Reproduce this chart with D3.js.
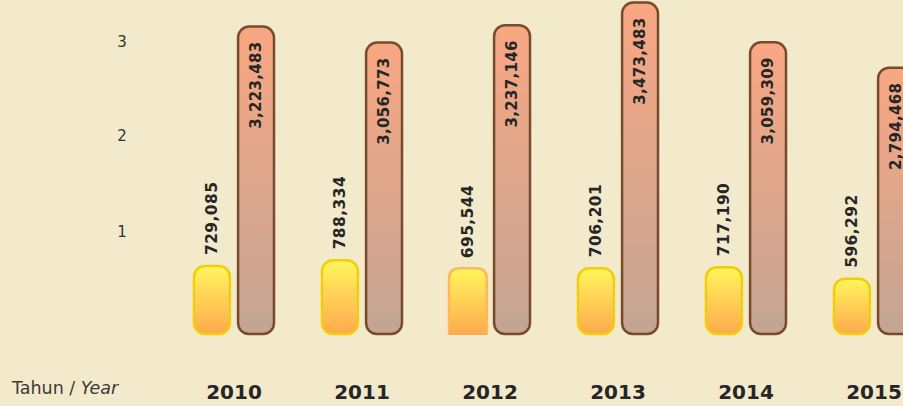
<!DOCTYPE html>
<html>
<head>
<meta charset="utf-8">
<script src="https://cdn.jsdelivr.net/npm/d3@7"></script>
<style>
  body { margin: 0; background: #f3eacb; }
  svg { display: block; font-family: "Century Gothic", "DejaVu Sans", sans-serif; }
</style>
</head>
<body>
<div id="chart"></div>
<script>
// Data
const years = ["2010", "2011", "2012", "2013", "2014", "2015"];
const seriesA = [729085, 788334, 695544, 706201, 717190, 596292];
const seriesB = [3223483, 3056773, 3237146, 3473483, 3059309, 2794468];
const yTicks = [1, 2, 3];

const width = 903, height = 406;
const svg = d3.select("#chart").append("svg")
    .attr("width", width)
    .attr("height", height);

svg.append("rect").attr("width", width).attr("height", height).attr("fill", "#f3eacb");

// Gradients
const defs = svg.append("defs");
const gYellow = defs.append("linearGradient").attr("id", "gYellow")
    .attr("x1", 0).attr("y1", 0).attr("x2", 0).attr("y2", 1);
gYellow.append("stop").attr("offset", "0%").attr("stop-color", "#fff65c");
gYellow.append("stop").attr("offset", "100%").attr("stop-color", "#ffa94f");
const gSalmon = defs.append("linearGradient").attr("id", "gSalmon")
    .attr("x1", 0).attr("y1", 0).attr("x2", 0).attr("y2", 1);
gSalmon.append("stop").attr("offset", "0%").attr("stop-color", "#f9a783");
gSalmon.append("stop").attr("offset", "100%").attr("stop-color", "#c2a594");

// Scales
const x = d3.scaleBand()
    .domain(years)
    .range([193 - 23, 193 - 23 + 128 * 6])
    .paddingInner(46 / 128)
    .paddingOuter(23 / 128);

const xInner = d3.scaleBand()
    .domain(["a", "b"])
    .range([0, x.bandwidth()])
    .paddingInner(0.14);

const y = d3.scaleLinear()
    .domain([0, 3.5])
    .range([335, 335 - 3.5 * 96]);

// Y tick labels
svg.append("g")
    .attr("transform", "translate(131,0)")
    .call(d3.axisLeft(y).tickValues(yTicks).tickSize(0).tickPadding(0).tickFormat(d3.format("d")))
    .call(g => g.select(".domain").remove())
    .selectAll("text")
    .attr("text-anchor", "middle")
    .attr("dx", "-9")
    .attr("dy", d => d === 3 ? "-0.05em" : "-0.2em")
    .style("font-size", "15px")
    .style("font-family", "'DejaVu Sans', sans-serif")
    .style("fill", "#333");

const groups = svg.append("g").selectAll("g")
    .data(years)
    .join("g")
    .attr("transform", d => `translate(${x(d)},0)`);

const bw = xInner.bandwidth();
const r = 11;

// Yellow bars (series A)
groups.each(function(yr, i) {
    const g = d3.select(this);
    const v = seriesA[i] / 1e6;
    const x0 = xInner("a"), top = y(v), bot = y(0);
    if (yr === "2012") {
        // flat-bottom bar with light orange outline in the reference
        const p = `M${x0},${bot} V${top + r} Q${x0},${top} ${x0 + r},${top} H${x0 + bw - r} Q${x0 + bw},${top} ${x0 + bw},${top + r} V${bot}`;
        g.append("path").attr("d", p + "Z").attr("fill", "url(#gYellow)").attr("stroke", "none");
        g.append("path").attr("d", p).attr("fill", "none").attr("stroke", "#ffb757").attr("stroke-width", 2.5);
    } else {
        g.append("rect")
            .attr("x", x0 + 1).attr("y", top + 1)
            .attr("width", bw - 2).attr("height", bot - top - 2)
            .attr("rx", r).attr("ry", r)
            .attr("fill", "url(#gYellow)")
            .attr("stroke", "#f2cd0a").attr("stroke-width", 2.5);
    }
    g.append("text")
        .attr("transform", `translate(${x0 + bw / 2},${top - 10}) rotate(-90)`)
        .attr("dy", "0.35em")
        .attr("text-anchor", "start")
        .style("font-size", "15.5px")
        .style("font-weight", "bold")
        .style("letter-spacing", "0.4px")
        .style("fill", "#262626")
        .text(d3.format(",")(seriesA[i]));
});

// Salmon bars (series B)
groups.each(function(yr, i) {
    const g = d3.select(this);
    const v = seriesB[i] / 1e6;
    const x0 = xInner("b"), top = y(v), bot = y(0);
    g.append("rect")
        .attr("x", x0 + 1).attr("y", top + 1)
        .attr("width", bw - 2).attr("height", bot - top - 2)
        .attr("rx", r).attr("ry", r)
        .attr("fill", "url(#gSalmon)")
        .attr("stroke", "#7a4a2c").attr("stroke-width", 2.5);
    g.append("text")
        .attr("transform", `translate(${x0 + bw / 2},${top + 16}) rotate(-90)`)
        .attr("dy", "0.35em")
        .attr("text-anchor", "end")
        .style("font-size", "15px")
        .style("font-weight", "bold")
        .style("letter-spacing", "0.3px")
        .style("fill", "#262626")
        .text(d3.format(",")(seriesB[i]));
});

// Year labels
svg.append("g")
    .attr("transform", "translate(0,399)")
    .call(d3.axisBottom(x).tickSize(0).tickPadding(0))
    .call(g => g.select(".domain").remove())
    .selectAll("text")
    .attr("dy", 0)
    .style("font-size", "20px")
    .style("font-weight", "bold")
    .style("font-family", "'DejaVu Sans', sans-serif")
    .style("fill", "#262626");

// Axis caption
const cap = svg.append("text")
    .attr("x", 12).attr("y", 394)
    .style("font-size", "17.5px")
    .style("fill", "#3a3a3a");
cap.append("tspan").text("Tahun / ");
cap.append("tspan").style("font-style", "italic").text("Year");
</script>
</body>
</html>
